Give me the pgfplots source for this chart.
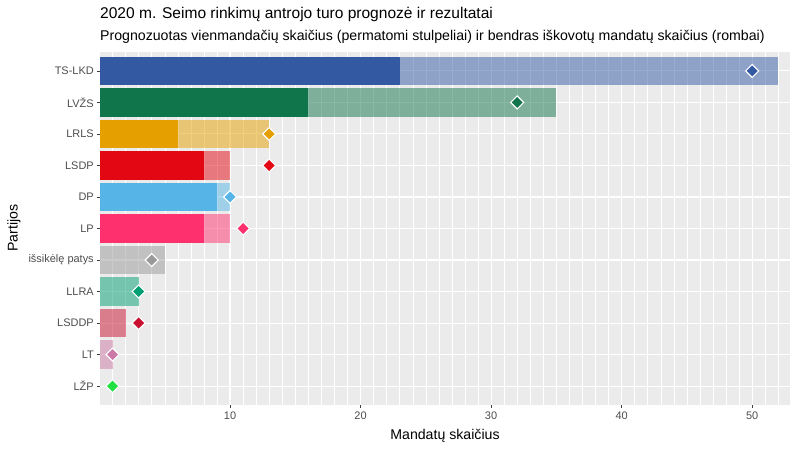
\documentclass[border=0pt]{standalone}
\usepackage{pgfplots}
\pgfplotsset{compat=1.18}
\usepackage{fontspec}
\setmainfont{Liberation Sans}
\definecolor{panel}{HTML}{EBEBEB}
\definecolor{tickcol}{HTML}{4D4D4D}
\definecolor{cTS}{HTML}{3359A3}
\definecolor{cLV}{HTML}{10754A}
\definecolor{cLR}{HTML}{E5A000}
\definecolor{cSD}{HTML}{E30613}
\definecolor{cDP}{HTML}{57B4E7}
\definecolor{cLP}{HTML}{FF306E}
\definecolor{cIS}{HTML}{999999}
\definecolor{cLL}{HTML}{009E73}
\definecolor{cSDD}{HTML}{C8102E}
\definecolor{cLT}{HTML}{CC79A7}
\definecolor{cZP}{HTML}{22E042}
\pgfplotsset{
  lightbar/.style={xbar, bar width=0.9, bar shift=0pt, draw=none, fill=#1, fill opacity=0.5},
  solidbar/.style={xbar, bar width=0.9, bar shift=0pt, draw=none, fill=#1},
  diam/.style={only marks, mark=square*, mark size=4.6bp, mark options={rotate=45, fill=#1, draw=white, line width=1.1bp}},
}
\begin{document}
\begin{tikzpicture}
\useasboundingbox (0,0) rectangle (800bp,450bp);
\begin{axis}[at={(99.5bp,45bp)}, anchor=south west, scale only axis,
  width=690.5bp, height=353bp,
  xmin=0, xmax=52.9, ymin=0.4, ymax=11.6, y dir=reverse,
  ytick={1,...,11},
  yticklabels={TS-LKD,LVŽS,LRLS,LSDP,DP,LP,išsikėlę patys,LLRA,LSDDP,LT,LŽP},
  xtick={10,20,30,40,50}, minor xtick={1,...,52},
  grid=both,
  major grid style={white, line width=1.07bp},
  minor grid style={white, line width=0.53bp},
  axis background/.style={fill=panel},
  axis line style={draw=none},
  tick pos=left, tick align=outside,
  major tick length=2.75bp, minor tick length=0pt,
  tick style={color=tickcol!80!black, line width=0.5bp},
  ticklabel style={font=\fontsize{11}{13}\selectfont, text=tickcol},
  xticklabel style={yshift=-1bp},
  yticklabel style={xshift=0.5bp},
  /pgf/number format/assume math mode=true,
  clip=false,
]
% forecast single-member seats (light bar = full forecast, solid = part)
\addplot[lightbar=cTS] coordinates {(52,1)};
\addplot[solidbar=cTS] coordinates {(23,1)};
\addplot[lightbar=cLV] coordinates {(35,2)};
\addplot[solidbar=cLV] coordinates {(16,2)};
\addplot[lightbar=cLR] coordinates {(13,3)};
\addplot[solidbar=cLR] coordinates {(6,3)};
\addplot[lightbar=cSD] coordinates {(10,4)};
\addplot[solidbar=cSD] coordinates {(8,4)};
\addplot[lightbar=cDP] coordinates {(10,5)};
\addplot[solidbar=cDP] coordinates {(9,5)};
\addplot[lightbar=cLP] coordinates {(10,6)};
\addplot[solidbar=cLP] coordinates {(8,6)};
\addplot[lightbar=cIS] coordinates {(5,7)};
\addplot[lightbar=cLL] coordinates {(3,8)};
\addplot[lightbar=cSDD] coordinates {(2,9)};
\addplot[lightbar=cLT] coordinates {(1,10)};
% total seats won (diamonds)
\addplot[diam=cTS] coordinates {(50,1)};
\addplot[diam=cLV] coordinates {(32,2)};
\addplot[diam=cLR] coordinates {(13,3)};
\addplot[diam=cSD] coordinates {(13,4)};
\addplot[diam=cDP] coordinates {(10,5)};
\addplot[diam=cLP] coordinates {(11,6)};
\addplot[diam=cIS] coordinates {(4,7)};
\addplot[diam=cLL] coordinates {(3,8)};
\addplot[diam=cSDD] coordinates {(3,9)};
\addplot[diam=cLT] coordinates {(1,10)};
\addplot[diam=cZP] coordinates {(1,11)};
\end{axis}
\node[anchor=base west, inner sep=0pt, font=\fontsize{15.6}{18}\selectfont] at (100bp,431bp) {2020 m. Seimo rinkimų antrojo turo prognozė ir rezultatai};
\node[anchor=base west, inner sep=0pt, font=\fontsize{14.2}{16}\selectfont] at (100bp,409bp) {Prognozuotas vienmandačių skaičius (permatomi stulpeliai) ir bendras iškovotų mandatų skaičius (rombai)};
\node[inner sep=0pt, font=\fontsize{14.2}{16}\selectfont] at (445bp,14bp) {Mandatų skaičius};
\node[inner sep=0pt, rotate=90, font=\fontsize{14.2}{16}\selectfont] at (14bp,222bp) {Partijos};
\end{tikzpicture}
\end{document}
